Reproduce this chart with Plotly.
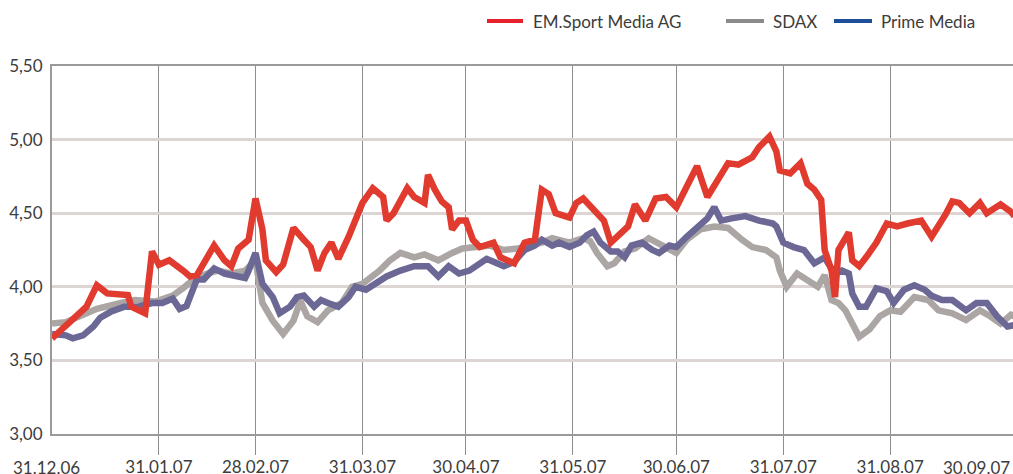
import pandas as pd
import plotly.graph_objects as go

# ---------------- data ----------------
base_date = "2006-12-31"

em_days = [0, 7, 10, 13, 16, 22, 23, 27, 29, 31,
           34, 38, 40, 42, 47, 50, 52, 54, 57, 59,
           61, 62, 65, 67, 70, 73, 75, 77, 79, 81,
           83, 86, 88, 90, 93, 96, 97, 99, 103, 105,
           108, 109, 111, 113, 115, 116, 118, 120, 122, 124,
           128, 130, 134, 137, 140, 142, 144, 146, 150, 152,
           154, 157, 160, 162, 165, 167, 169, 172, 175, 178,
           181, 184, 187, 190, 193, 196, 199, 203, 205, 208,
           210, 211, 214, 217, 219, 221, 223, 224, 226, 227,
           228, 231, 232, 234, 236, 239, 242, 245, 248, 252,
           255, 257, 259, 261, 263, 266, 269, 271, 275, 278,
           279]
em_vals = [3.65, 3.80, 3.865, 4.01, 3.955, 3.944, 3.865, 3.82, 4.24, 4.15,
           4.18, 4.11, 4.07, 4.08, 4.28, 4.18, 4.14, 4.26, 4.32, 4.60,
           4.39, 4.18, 4.10, 4.15, 4.40, 4.32, 4.27, 4.11, 4.23, 4.30,
           4.19, 4.34, 4.45, 4.57, 4.67, 4.61, 4.45, 4.50, 4.67, 4.61,
           4.57, 4.76, 4.66, 4.58, 4.54, 4.39, 4.45, 4.45, 4.32, 4.27,
           4.30, 4.20, 4.16, 4.30, 4.32, 4.66, 4.63, 4.50, 4.47, 4.57,
           4.60, 4.52, 4.45, 4.30, 4.36, 4.41, 4.56, 4.45, 4.60, 4.61,
           4.54, 4.68, 4.82, 4.61, 4.73, 4.84, 4.83, 4.88, 4.95, 5.02,
           4.92, 4.79, 4.77, 4.84, 4.70, 4.66, 4.59, 4.25, 4.11, 3.93,
           4.25, 4.37, 4.18, 4.14, 4.20, 4.30, 4.43, 4.41, 4.43, 4.45,
           4.34, 4.41, 4.49, 4.58, 4.57, 4.50, 4.57, 4.50, 4.56, 4.51,
           4.48]

sdax_days = [0, 4, 8, 13, 20, 24, 30, 35, 38, 41,
             45, 48, 52, 56, 59, 61, 64, 67, 70, 72,
             74, 77, 80, 84, 87, 90, 95, 98, 101, 105,
             108, 112, 116, 119, 123, 127, 131, 135, 138, 142,
             145, 150, 154, 156, 158, 161, 163, 166, 169, 173,
             177, 181, 184, 188, 192, 196, 200, 203, 207, 210,
             211, 213, 216, 219, 222, 224, 226, 228, 230, 232,
             234, 237, 240, 243, 246, 250, 254, 257, 261, 265,
             269, 272, 275, 278, 279]
sdax_vals = [3.75, 3.76, 3.80, 3.85, 3.89, 3.91, 3.90, 3.94, 3.99, 4.05,
             4.09, 4.11, 4.09, 4.11, 4.18, 3.89, 3.77, 3.68, 3.77, 3.905,
             3.80, 3.76, 3.84, 3.89, 4.00, 4.02, 4.11, 4.18, 4.23, 4.20,
             4.22, 4.18, 4.23, 4.26, 4.27, 4.28, 4.25, 4.26, 4.28, 4.30,
             4.33, 4.30, 4.33, 4.31, 4.23, 4.14, 4.16, 4.24, 4.26, 4.33,
             4.28, 4.23, 4.32, 4.39, 4.41, 4.40, 4.32, 4.27, 4.25, 4.20,
             4.11, 4.00, 4.09, 4.05, 4.00, 4.08, 3.91, 3.89, 3.84, 3.75,
             3.66, 3.71, 3.80, 3.84, 3.83, 3.93, 3.91, 3.84, 3.82, 3.775,
             3.84, 3.80, 3.75, 3.81, 3.80]

prime_days = [0, 4, 6, 9, 12, 14, 17, 21, 25, 29,
              32, 35, 37, 39, 42, 44, 47, 50, 54, 56,
              57, 59, 61, 64, 66, 69, 71, 73, 76, 78,
              80, 83, 86, 88, 91, 94, 97, 101, 105, 109,
              112, 115, 118, 121, 124, 126, 128, 131, 134, 137,
              140, 142, 145, 147, 150, 153, 155, 157, 159, 162,
              164, 166, 168, 171, 174, 176, 179, 181, 184, 187,
              190, 192, 194, 197, 201, 205, 209, 210, 212, 215,
              218, 221, 224, 225, 227, 229, 231, 232, 234, 236,
              239, 242, 244, 247, 250, 253, 255, 258, 261, 265,
              268, 271, 274, 277, 279]
prime_vals = [3.68, 3.67, 3.65, 3.67, 3.73, 3.79, 3.83, 3.865, 3.865, 3.89,
              3.89, 3.92, 3.85, 3.87, 4.05, 4.05, 4.125, 4.09, 4.07, 4.06,
              4.11, 4.23, 4.02, 3.93, 3.82, 3.865, 3.93, 3.94, 3.865, 3.91,
              3.89, 3.865, 3.93, 4.00, 3.98, 4.02, 4.07, 4.11, 4.14, 4.14,
              4.07, 4.14, 4.09, 4.11, 4.16, 4.19, 4.17, 4.14, 4.17, 4.25,
              4.28, 4.32, 4.28, 4.30, 4.27, 4.30, 4.35, 4.375, 4.30, 4.24,
              4.24, 4.20, 4.28, 4.30, 4.25, 4.23, 4.28, 4.27, 4.34, 4.41,
              4.465, 4.54, 4.45, 4.465, 4.48, 4.45, 4.43, 4.41, 4.30, 4.27,
              4.25, 4.16, 4.20, 4.16, 4.09, 4.11, 4.09, 3.955, 3.865, 3.865,
              3.99, 3.97, 3.89, 3.98, 4.01, 3.98, 3.94, 3.91, 3.91, 3.84,
              3.89, 3.89, 3.80, 3.73, 3.74]

x_tick_dates = ["2006-12-31", "2007-01-31", "2007-02-28", "2007-03-31", "2007-04-30",
                "2007-05-31", "2007-06-30", "2007-07-31", "2007-08-31", "2007-09-30"]
x_tick_labels = ["31.12.06", "31.01.07", "28.02.07", "31.03.07", "30.04.07",
                 "31.05.07", "30.06.07", "31.07.07", "31.08.07", "30.09.07"]
y_tick_vals = [3.0, 3.5, 4.0, 4.5, 5.0, 5.5]
y_tick_labels = ["3,00", "3,50", "4,00", "4,50", "5,00", "5,50"]

series_names = ["EM.Sport Media AG", "SDAX", "Prime Media"]

# ---------------- styles ----------------
line_colors = {"EM.Sport Media AG": "#e13a2e", "SDAX": "#aba5a4", "Prime Media": "#6c6896"}
legend_colors = {"EM.Sport Media AG": "#e5222b", "SDAX": "#8b8a8c", "Prime Media": "#1e4e98"}
FONT = "Lato, 'Open Sans', sans-serif"
TEXT = "#3c3c3c"

base = pd.Timestamp(base_date)


def to_dates(days):
    return base + pd.to_timedelta(days, unit="D")


fig = go.Figure()
for name, days, vals in [("SDAX", sdax_days, sdax_vals),
                         ("Prime Media", prime_days, prime_vals),
                         ("EM.Sport Media AG", em_days, em_vals)]:
    fig.add_trace(go.Scatter(x=to_dates(days), y=vals, mode="lines", name=name,
                             line=dict(color=line_colors[name], width=6.5),
                             showlegend=False, hoverinfo="x+y+name"))

W, H = 1013, 474
ml, mr, mt, mb = 52, 0, 66, 40
pw, ph = W - ml - mr, H - mt - mb


def px_x(p):
    return (p - ml) / pw


def px_y(p):
    return (H - mb - p) / ph


# legend (manual)
legend_pos = {"EM.Sport Media AG": (487, 523, 531),
              "SDAX": (726, 764, 771),
              "Prime Media": (834, 872, 879)}
shapes = []
annotations = []
for name in series_names:
    a, b, t = legend_pos[name]
    shapes.append(dict(type="line", xref="paper", yref="paper",
                       x0=px_x(a), x1=px_x(b), y0=px_y(21), y1=px_y(21),
                       line=dict(color=legend_colors[name], width=4)))
    annotations.append(dict(xref="paper", yref="paper", x=px_x(t), y=px_y(22),
                            xanchor="left", yanchor="middle", showarrow=False,
                            text=name, font=dict(family=FONT, size=17, color=TEXT)))

# first and last x labels as annotations
annotations.append(dict(xref="paper", yref="paper", x=px_x(46), y=0, yshift=-21,
                        xanchor="center", yanchor="top", showarrow=False,
                        text=x_tick_labels[0], font=dict(family=FONT, size=17, color=TEXT)))
annotations.append(dict(xref="paper", yref="paper", x=px_x(1012), y=0, yshift=-21,
                        xanchor="right", yanchor="top", showarrow=False,
                        text=x_tick_labels[-1], font=dict(family=FONT, size=17, color=TEXT)))

x_end = base + pd.Timedelta(days=278.6)

fig.update_layout(
    width=W, height=H,
    margin=dict(l=ml, r=mr, t=mt, b=mb, pad=0, autoexpand=False),
    paper_bgcolor="white", plot_bgcolor="white",
    font=dict(family=FONT, size=17, color=TEXT),
    shapes=shapes, annotations=annotations,
    showlegend=False,
)
fig.update_xaxes(
    type="date", range=[base, x_end], automargin=False,
    tickvals=x_tick_dates[1:-1], ticktext=x_tick_labels[1:-1],
    showgrid=True, gridcolor="#8e8e8e", gridwidth=1,
    ticks="outside", ticklen=19, tickwidth=1, tickcolor="#8e8e8e",
    ticklabelstandoff=-2,
    showline=True, linecolor="#9a9a9a", linewidth=2, mirror=True,
    tickfont=dict(family=FONT, size=17, color=TEXT),
    zeroline=False,
)
fig.update_yaxes(
    range=[3.0, 5.5], automargin=False,
    tickvals=y_tick_vals, ticktext=y_tick_labels,
    showgrid=True, gridcolor="#ddd5d3", gridwidth=3,
    ticks="outside", ticklen=4, tickcolor="rgba(0,0,0,0)",
    showline=True, linecolor="#9a9a9a", linewidth=2,
    tickfont=dict(family=FONT, size=17, color=TEXT),
    zeroline=False,
)

fig.write_html(
    "out.html",
    config={"displayModeBar": False},
    post_script="document.body.style.margin='0';document.body.style.overflow='hidden';",
)
